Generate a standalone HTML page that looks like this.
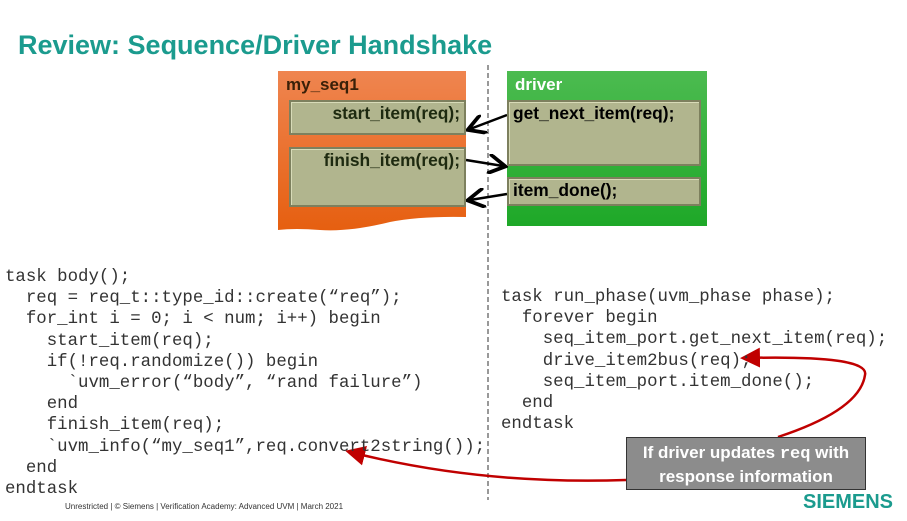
<!DOCTYPE html>
<html><head><style>
body{margin:0;width:907px;height:521px;background:#fff;position:relative;overflow:hidden;font-family:"Liberation Sans",sans-serif}
.a{position:absolute}
.code{position:absolute;font-family:"Liberation Mono",monospace;font-size:17.4px;line-height:21.2px;white-space:pre;color:#333}
.ib{position:absolute;background:#b1b58e;border:2px solid #7d805e;box-shadow:inset 1px 1px 0 #d8dbb8;font-weight:bold;font-size:17.4px;color:#1e2a10;box-sizing:border-box;padding:1px 4px}
</style></head><body>
<div class="a" style="left:18px;top:30px;font-size:27px;font-weight:bold;color:#1b9b8e">Review: Sequence/Driver Handshake</div>
<svg class="a" style="left:0;top:0" width="907" height="521">
<defs><linearGradient id="o" x1="0" y1="0" x2="0" y2="1"><stop offset="0" stop-color="#ef8550"/><stop offset="1" stop-color="#e65f10"/></linearGradient>
<linearGradient id="g" x1="0" y1="0" x2="0" y2="1"><stop offset="0" stop-color="#4cbb50"/><stop offset="1" stop-color="#1ea828"/></linearGradient>
<marker id="ak" markerWidth="8" markerHeight="8" refX="6" refY="4" orient="auto"><path d="M0,0 L7,4 L0,8" fill="none" stroke="#000" stroke-width="1.5"/></marker>
<marker id="ar" markerWidth="8" markerHeight="8" refX="6" refY="4" orient="auto"><path d="M0,0 L8,4 L0,8z" fill="#c00000"/></marker></defs>
<path d="M278,71 H466 V217 Q420,216 390,222 Q350,232 320,230 Q295,228 278,230 Z" fill="url(#o)"/>
<rect x="507" y="71" width="200" height="155" fill="url(#g)"/>
<line x1="488" y1="65" x2="488" y2="500" stroke="#333" stroke-width="1" stroke-dasharray="5,3"/>
<line x1="507" y1="115" x2="470" y2="129" stroke="#000" stroke-width="2.5" marker-end="url(#ak)"/>
<line x1="466" y1="160" x2="503" y2="166" stroke="#000" stroke-width="2.5" marker-end="url(#ak)"/>
<line x1="507" y1="194" x2="470" y2="200" stroke="#000" stroke-width="2.5" marker-end="url(#ak)"/>
<path d="M778,437 Q860,410 865,375 Q870,355 745,358" fill="none" stroke="#c00000" stroke-width="2.5" marker-end="url(#ar)"/>
<path d="M626,480 Q480,485 350,452" fill="none" stroke="#c00000" stroke-width="2.5" marker-end="url(#ar)"/>
</svg>
<div class="a" style="left:286px;top:75px;font-weight:bold;font-size:17px;color:#3a2008">my_seq1</div>
<div class="a" style="left:515px;top:75px;font-weight:bold;font-size:17px;color:#fff">driver</div>
<div class="ib" style="left:289px;top:100px;width:177px;height:35px;text-align:right">start_item(req);</div>
<div class="ib" style="left:289px;top:147px;width:177px;height:60px;text-align:right">finish_item(req);</div>
<div class="ib" style="left:507px;top:100px;width:194px;height:66px;color:#000">get_next_item(req);</div>
<div class="ib" style="left:507px;top:177px;width:194px;height:29px;color:#000">item_done();</div>
<div class="code" style="left:5px;top:267px">task body();
  req = req_t::type_id::create(“req”);
  for_int i = 0; i &lt; num; i++) begin
    start_item(req);
    if(!req.randomize()) begin
      `uvm_error(“body”, “rand failure”)
    end
    finish_item(req);
    `uvm_info(“my_seq1”,req.convert2string());
  end
endtask</div>
<div class="code" style="left:501px;top:287px">task run_phase(uvm_phase phase);
  forever begin
    seq_item_port.get_next_item(req);
    drive_item2bus(req);
    seq_item_port.item_done();
  end
endtask</div>
<div class="a" style="left:626px;top:437px;width:240px;height:53px;background:#8c8c8c;border:1px solid #333;box-sizing:border-box;color:#fff;font-weight:bold;font-size:17px;text-align:center;line-height:22px;padding-top:4px">If driver updates <span style="font-family:'Liberation Mono',monospace">req</span> with<br>response information</div>
<div class="a" style="left:65px;top:502px;font-size:8px;color:#333">Unrestricted | © Siemens | Verification Academy: Advanced UVM | March 2021</div>
<div class="a" style="left:803px;top:491px;font-size:20px;font-weight:bold;color:#1b9b8e">SIEMENS</div>
</body></html>
